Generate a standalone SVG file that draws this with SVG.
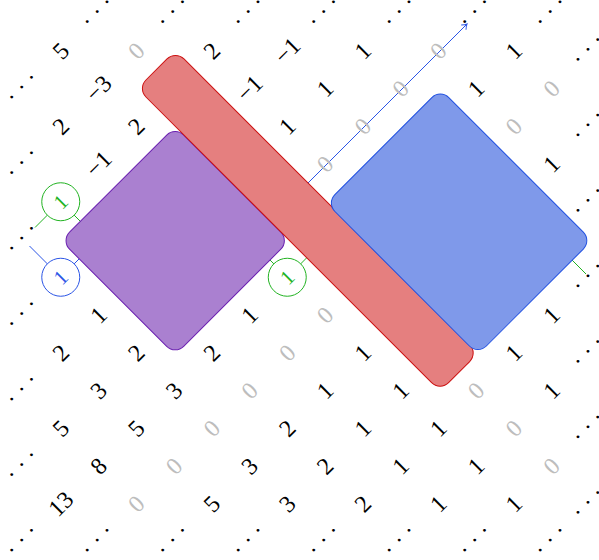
<svg xmlns="http://www.w3.org/2000/svg" width="599" height="560" viewBox="0 0 599 560">
<style>
text { font-family: "Liberation Serif", "DejaVu Serif", serif; font-size: 24px; text-anchor: middle; dominant-baseline: central; fill: #000; }
text.g { fill: #bdbdbd; }
text.d { font-size: 24px; letter-spacing: 6px; }
.gl { fill: none; stroke: #22b322; stroke-width: 1; }
.bl { fill: none; stroke: #2b55e6; stroke-width: 1; }
circle.gc { fill: #fff; stroke: #22b322; stroke-width: 1; }
circle.bc { fill: #fff; stroke: #2b55e6; stroke-width: 1; }
text.gt { fill: #22b322; font-size: 21px; }
text.bt { fill: #2b55e6; font-size: 21px; }
</style>
<defs>
<marker id="arr" markerUnits="userSpaceOnUse" markerWidth="12" markerHeight="12" viewBox="-6 -6 12 12" refX="0" refY="0" orient="auto">
<path d="M-4.8,-3.4 Q-2,-0.8 0,0 Q-2,0.8 -4.8,3.4" fill="none" stroke="#2b55e6" stroke-width="1"/>
</marker>
</defs>
<rect width="599" height="560" fill="#fff"/>
<g id="connectors">
<path class="gl" d="M35,227.5 L60.75,201.75 L98.5,239.5"/>
<path class="bl" d="M29.5,246 L60.75,277.25 L98.5,239.5"/>
<path class="gl" d="M249.5,239.5 L287.25,277.25 L325,239.5"/>
<path class="gl" d="M551.5,239.5 L586,274"/>
<path class="bl" d="M288,203 L467,24" marker-end="url(#arr)"/>
</g>
<g id="box-purple"><rect x="-80.7" y="-80.7" width="161.4" height="161.4" rx="12" transform="translate(175.2 240.7) rotate(45)" fill="#aa80d0" stroke="#6a1fb0" stroke-width="1"/></g>
<g id="box-red"><rect x="-214" y="-26.9" width="428" height="53.8" rx="12" transform="translate(307.8 220.8) rotate(45)" fill="#e57f7f" stroke="#cc1010" stroke-width="1"/></g>
<g id="box-blue"><rect x="-107.1" y="-80.55" width="214.2" height="161.1" rx="12" transform="translate(459.1 221.8) rotate(45)" fill="#7f99ea" stroke="#2050e0" stroke-width="1"/></g>
<g id="node-g1"><circle class="gc" cx="60.75" cy="201.75" r="19"/><text class="gt" transform="translate(60.75 201.75) rotate(-45)">1</text></g>
<g id="node-b1"><circle class="bc" cx="60.75" cy="277.25" r="19"/><text class="bt" transform="translate(60.75 277.25) rotate(-45)">1</text></g>
<g id="node-g2"><circle class="gc" cx="287.25" cy="277.25" r="19"/><text class="gt" transform="translate(287.25 277.25) rotate(-45)">1</text></g>
<g id="entries">
<text transform="translate(60.75 50.75) rotate(-45)">5</text>
<text class="g" transform="translate(136.25 50.75) rotate(-45)">0</text>
<text transform="translate(211.75 50.75) rotate(-45)">2</text>
<text transform="translate(287.25 50.75) rotate(-45)">−1</text>
<text transform="translate(362.75 50.75) rotate(-45)">1</text>
<text class="g" transform="translate(438.25 50.75) rotate(-45)">0</text>
<text transform="translate(513.75 50.75) rotate(-45)">1</text>
<text transform="translate(98.5 88.5) rotate(-45)">−3</text>
<text transform="translate(249.5 88.5) rotate(-45)">−1</text>
<text transform="translate(325 88.5) rotate(-45)">1</text>
<text class="g" transform="translate(400.5 88.5) rotate(-45)">0</text>
<text transform="translate(476 88.5) rotate(-45)">1</text>
<text class="g" transform="translate(551.5 88.5) rotate(-45)">0</text>
<text transform="translate(60.75 126.25) rotate(-45)">2</text>
<text transform="translate(136.25 126.25) rotate(-45)">2</text>
<text transform="translate(287.25 126.25) rotate(-45)">1</text>
<text class="g" transform="translate(362.75 126.25) rotate(-45)">0</text>
<text class="g" transform="translate(513.75 126.25) rotate(-45)">0</text>
<text transform="translate(98.5 164) rotate(-45)">−1</text>
<text class="g" transform="translate(325 164) rotate(-45)">0</text>
<text transform="translate(551.5 164) rotate(-45)">1</text>
<text transform="translate(98.5 315) rotate(-45)">1</text>
<text transform="translate(249.5 315) rotate(-45)">1</text>
<text class="g" transform="translate(325 315) rotate(-45)">0</text>
<text transform="translate(551.5 315) rotate(-45)">1</text>
<text transform="translate(60.75 352.75) rotate(-45)">2</text>
<text transform="translate(136.25 352.75) rotate(-45)">2</text>
<text transform="translate(211.75 352.75) rotate(-45)">2</text>
<text class="g" transform="translate(287.25 352.75) rotate(-45)">0</text>
<text transform="translate(362.75 352.75) rotate(-45)">1</text>
<text transform="translate(513.75 352.75) rotate(-45)">1</text>
<text transform="translate(98.5 390.5) rotate(-45)">3</text>
<text transform="translate(174 390.5) rotate(-45)">3</text>
<text class="g" transform="translate(249.5 390.5) rotate(-45)">0</text>
<text transform="translate(325 390.5) rotate(-45)">1</text>
<text transform="translate(400.5 390.5) rotate(-45)">1</text>
<text class="g" transform="translate(476 390.5) rotate(-45)">0</text>
<text transform="translate(551.5 390.5) rotate(-45)">1</text>
<text transform="translate(60.75 428.25) rotate(-45)">5</text>
<text transform="translate(136.25 428.25) rotate(-45)">5</text>
<text class="g" transform="translate(211.75 428.25) rotate(-45)">0</text>
<text transform="translate(287.25 428.25) rotate(-45)">2</text>
<text transform="translate(362.75 428.25) rotate(-45)">1</text>
<text transform="translate(438.25 428.25) rotate(-45)">1</text>
<text class="g" transform="translate(513.75 428.25) rotate(-45)">0</text>
<text transform="translate(98.5 466) rotate(-45)">8</text>
<text class="g" transform="translate(174 466) rotate(-45)">0</text>
<text transform="translate(249.5 466) rotate(-45)">3</text>
<text transform="translate(325 466) rotate(-45)">2</text>
<text transform="translate(400.5 466) rotate(-45)">1</text>
<text transform="translate(476 466) rotate(-45)">1</text>
<text class="g" transform="translate(551.5 466) rotate(-45)">0</text>
<text transform="translate(60.75 503.75) rotate(-45)">13</text>
<text class="g" transform="translate(136.25 503.75) rotate(-45)">0</text>
<text transform="translate(211.75 503.75) rotate(-45)">5</text>
<text transform="translate(287.25 503.75) rotate(-45)">3</text>
<text transform="translate(362.75 503.75) rotate(-45)">2</text>
<text transform="translate(438.25 503.75) rotate(-45)">1</text>
<text transform="translate(513.75 503.75) rotate(-45)">1</text>
</g>
<g id="dots">
<text class="d" dx="3" dy="-2" transform="translate(98.5 13) rotate(-45)">···</text>
<text class="d" dx="3" dy="-2" transform="translate(174 13) rotate(-45)">···</text>
<text class="d" dx="3" dy="-2" transform="translate(249.5 13) rotate(-45)">···</text>
<text class="d" dx="3" dy="-2" transform="translate(325 13) rotate(-45)">···</text>
<text class="d" dx="3" dy="-2" transform="translate(400.5 13) rotate(-45)">···</text>
<text class="d" dx="3" dy="-2" transform="translate(476 13) rotate(-45)">···</text>
<text class="d" dx="3" dy="-2" transform="translate(551.5 13) rotate(-45)">···</text>
<text class="d" dx="3" dy="-2" transform="translate(23 88.5) rotate(-45)">···</text>
<text class="d" dx="3" dy="-2" transform="translate(23 164) rotate(-45)">···</text>
<text class="d" dx="3" dy="-2" transform="translate(23 239.5) rotate(-45)">···</text>
<text class="d" dx="3" dy="-2" transform="translate(23 315) rotate(-45)">···</text>
<text class="d" dx="3" dy="-2" transform="translate(23 390.5) rotate(-45)">···</text>
<text class="d" dx="3" dy="-2" transform="translate(23 466) rotate(-45)">···</text>
<text class="d" dx="3" dy="-2" transform="translate(23 541.5) rotate(-45)">···</text>
<text class="d" dx="3" dy="-2" transform="translate(98.5 541.5) rotate(-45)">···</text>
<text class="d" dx="3" dy="-2" transform="translate(174 541.5) rotate(-45)">···</text>
<text class="d" dx="3" dy="-2" transform="translate(249.5 541.5) rotate(-45)">···</text>
<text class="d" dx="3" dy="-2" transform="translate(325 541.5) rotate(-45)">···</text>
<text class="d" dx="3" dy="-2" transform="translate(400.5 541.5) rotate(-45)">···</text>
<text class="d" dx="3" dy="-2" transform="translate(476 541.5) rotate(-45)">···</text>
<text class="d" dx="3" dy="-2" transform="translate(551.5 541.5) rotate(-45)">···</text>
<text class="d" dx="3" dy="-2" transform="translate(589.25 50.75) rotate(-45)">···</text>
<text class="d" dx="3" dy="-2" transform="translate(589.25 126.25) rotate(-45)">···</text>
<text class="d" dx="3" dy="-2" transform="translate(589.25 201.75) rotate(-45)">···</text>
<text class="d" dx="3" dy="-2" transform="translate(589.25 277.25) rotate(-45)">···</text>
<text class="d" dx="3" dy="-2" transform="translate(589.25 352.75) rotate(-45)">···</text>
<text class="d" dx="3" dy="-2" transform="translate(589.25 428.25) rotate(-45)">···</text>
<text class="d" dx="3" dy="-2" transform="translate(589.25 503.75) rotate(-45)">···</text>
</g>
</svg>
